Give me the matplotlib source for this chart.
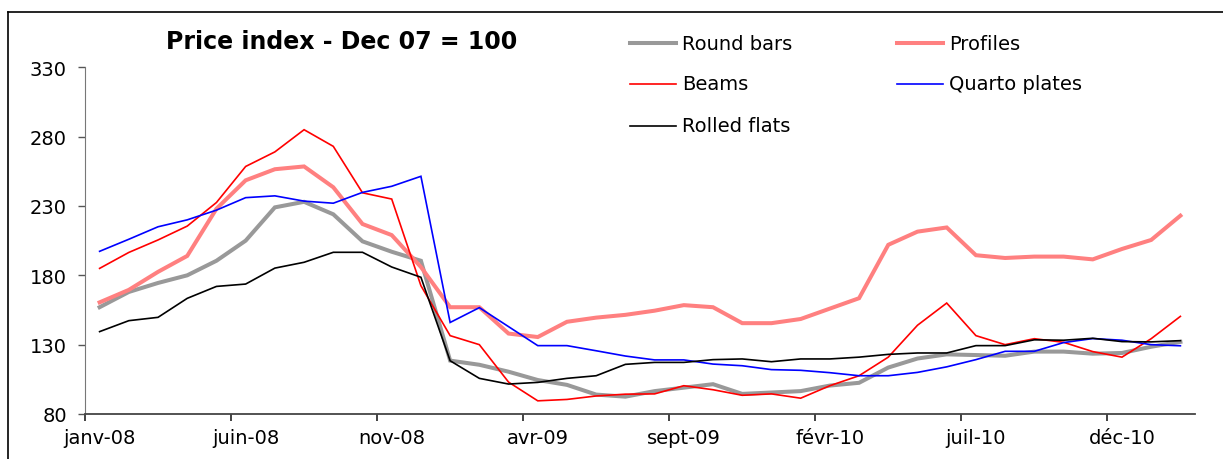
import numpy as np
import matplotlib
matplotlib.use("Agg")
import matplotlib.pyplot as plt
from matplotlib.lines import Line2D

plt.rcParams["font.family"] = ["DejaVu Sans"]

# months janv-08 .. févr-11
month_names = ["janv", "févr", "mars", "avr", "mai", "juin",
               "juil", "août", "sept", "oct", "nov", "déc"]
months = [f"{month_names[m % 12]}-{8 + m // 12:02d}" for m in range(38)]

round_bars = [157, 168, 174.5, 180, 190.5, 205, 229, 233, 224, 204.5,
              197, 190.5, 118.5, 115.5, 110.5, 104.5, 101, 94, 92.5, 96.5,
              99, 101.5, 94.5, 95.5, 96.5, 100.5, 102.5, 113.5, 120, 123,
              122.5, 122, 125, 125, 123.5, 124, 128.5, 132]
profiles = [160.5, 169.5, 182.5, 194, 228, 248.5, 256.5, 258.5, 243.5, 217,
            209, 186, 157, 157, 138, 135.5, 146.5, 149.5, 151.5, 154.5,
            158.5, 157, 145.5, 145.5, 148.5, 156, 163.5, 202, 211.5, 214.5,
            194.5, 192.5, 193.5, 193.5, 191.5, 199, 205.5, 223]
beams = [185, 196.5, 205.5, 215.5, 232.5, 258.5, 269, 285, 273, 239.5,
         235, 172.5, 136.5, 130, 103, 89.5, 90.5, 93, 94.3, 94.5,
         100.4, 97.5, 93.5, 94.5, 91.4, 100.4, 107.6, 121, 144, 160,
         136.5, 130, 134.3, 131.7, 125, 121, 134.3, 150.4]
quarto_plates = [197.3, 206, 215, 220, 227, 236, 237.3, 233.5, 232, 239.8,
                 244.2, 251.4, 146, 156.7, 143, 129.3, 129.3, 125.6, 121.8, 119,
                 119, 116, 114.8, 112, 111.5, 109.8, 107.6, 107.6, 110, 114,
                 119.2, 125.2, 125.2, 131.5, 134.4, 133.2, 130, 129.2]
rolled_flats = [139.4, 147.3, 149.7, 163.4, 172, 173.7, 185.2, 189.4, 196.6, 196.6,
                186, 178.6, 118.4, 105.7, 101.6, 102.8, 105.7, 107.6, 115.8, 117.2,
                117.2, 119.2, 119.7, 117.7, 119.7, 119.7, 121, 123, 124, 124,
                129.3, 129.3, 133.5, 133.2, 134.6, 132.2, 132, 132.9]

series = [
    ("Round bars", round_bars, "#999999", 2.9),
    ("Profiles", profiles, "#FF8080", 2.9),
    ("Beams", beams, "#FF0000", 1.2),
    ("Quarto plates", quarto_plates, "#0000FF", 1.2),
    ("Rolled flats", rolled_flats, "#000000", 1.2),
]

W, H = 1223, 460
fig = plt.figure(figsize=(W / 100, H / 100), dpi=100)
ax = fig.add_axes([85 / W, (H - 415) / H, 1110 / W, 346.7 / H])

x = np.arange(len(months))
for name, vals, col, lw in series:
    ax.plot(x, vals, color=col, lw=lw, solid_joinstyle="miter")

ax.set_xlim(-0.5, len(months) - 0.5)
ax.set_ylim(80, 330)
ax.set_yticks(np.arange(80, 331, 50))
ax.set_xticks(x[::5])
ax.set_xticklabels([months[i] for i in x[::5]])
ax.set_xticks(np.arange(-0.5, len(months) - 1, 5), minor=True)
ax.tick_params(axis="x", which="major", length=0, pad=10, labelsize=14)
ax.tick_params(axis="x", which="minor", length=5, width=1.2, color="#222222")
ax.tick_params(axis="y", length=5, width=1.0, pad=8, labelsize=14, color="#555555")
for s in ["top", "right"]:
    ax.spines[s].set_visible(False)
ax.spines["left"].set_color("#777777")
ax.spines["bottom"].set_color("#444444")
ax.spines["bottom"].set_linewidth(1.3)

fig.text(342 / W, 1 - 42 / H, "Price index - Dec 07 = 100", fontsize=17,
         fontweight="bold", ha="center", va="center")

# legend, two columns
pos = [(630, 44), (897, 44), (630, 85), (897, 85), (630, 127)]
for (name, vals, col, lw), (lx, ly) in zip(series, pos):
    fig.add_artist(Line2D([lx / W, (lx + 46) / W], [1 - ly / H, 1 - ly / H],
                          color=col, lw=lw, transform=fig.transFigure))
    fig.text((lx + 52) / W, 1 - ly / H, name, fontsize=14, va="center", ha="left")

# outer frame
fig.add_artist(Line2D([8 / W, 1], [1 - 13 / H, 1 - 13 / H], color="black",
                      lw=1.2, transform=fig.transFigure))
fig.add_artist(Line2D([8 / W, 8 / W], [0, 1 - 13 / H], color="black",
                      lw=1.2, transform=fig.transFigure))

fig.savefig("out.png", dpi=100)
